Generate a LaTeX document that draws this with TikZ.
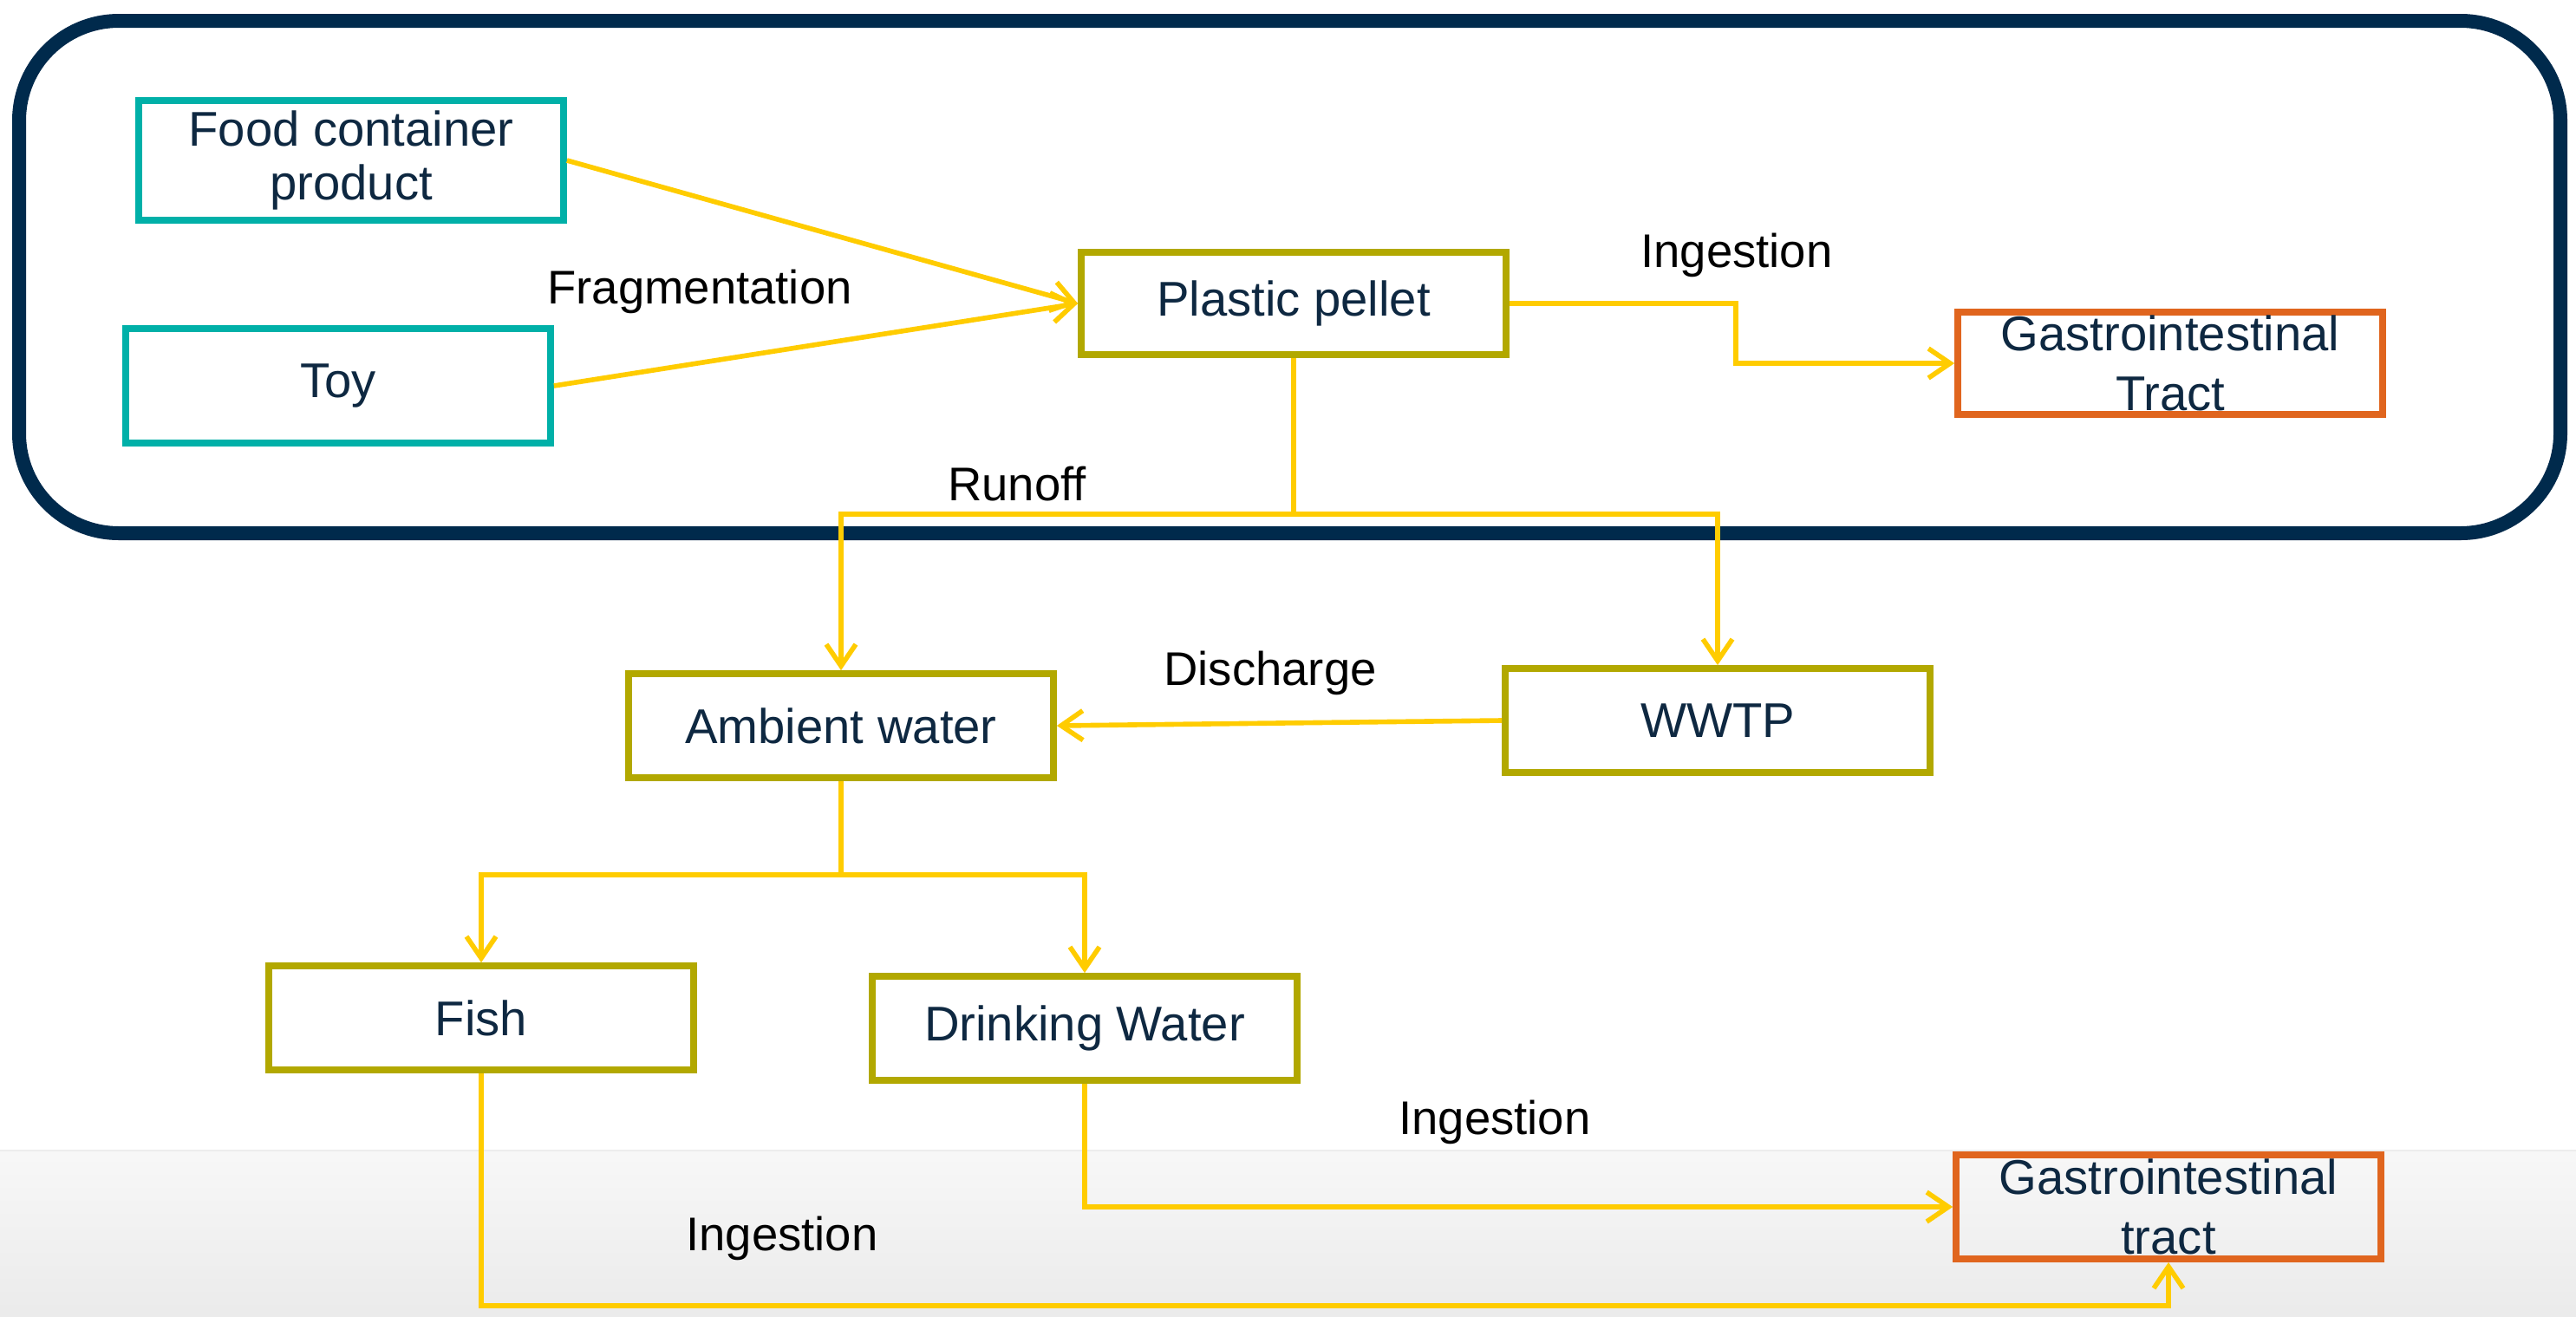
\documentclass[tikz,border=0pt]{standalone}
\usepackage{fontspec}
\setmainfont{Liberation Sans}
\usetikzlibrary{arrows.meta,positioning,shadows}
\definecolor{framenavy}{HTML}{002A4C}
\definecolor{textnavy}{HTML}{0E2841}
\definecolor{boxteal}{HTML}{00B0A8}
\definecolor{boxolive}{HTML}{B2A800}
\definecolor{boxorange}{HTML}{E0651E}
\definecolor{flowyellow}{HTML}{FFCC00}

\begin{document}
\begin{tikzpicture}[>={Straight Barb[length=0.25cm,width=0.34cm]}]
        \tikzstyle{box} = [draw, line width=2.2pt, minimum width=4.9cm, minimum height=1.25cm, text=textnavy, align=center, font=\fontsize{16}{17.5}\selectfont]
        \tikzstyle{srcbox} = [box, draw=boxteal]
        \tikzstyle{midbox} = [box, draw=boxolive]
        \tikzstyle{gibox} = [box, draw=boxorange, inner ysep=-4pt, font=\fontsize{16}{19.5}\selectfont]
        \tikzstyle{flow} = [draw=flowyellow, line width=1.6pt]
        \tikzstyle{step label} = [font=\fontsize{15.5}{18}\selectfont, text=black]

        \useasboundingbox (0,0) rectangle (29.71,-15.18);
        \fill[white] (0,0) rectangle (29.71,-15.18);
        \shade[top color=black!3, bottom color=black!8] (0,-13.27) rectangle (29.71,-15.18);
        \draw[black!7, line width=0.6pt] (0,-13.27) -- (29.71,-13.27);
        % upper frame
        \draw[framenavy, fill=white, line width=0.16cm, rounded corners=1.15cm,
              drop shadow={shadow xshift=0.02cm, shadow yshift=-0.08cm, opacity=0.25}]
              (0.22,-0.24) rectangle (29.53,-6.15);

        \node[srcbox] (food) at (4.05,-1.85) {Food container\\product};
        \node[srcbox, minimum height=1.32cm] (toy) at (3.90,-4.45) {Toy};
        \node[midbox, minimum height=1.18cm] (pellet) at (14.92,-3.50) {Plastic pellet};
        \node[gibox, minimum height=1.18cm] (gi1) at (25.03,-4.19) {Gastrointestinal\\Tract};
        \node[midbox, minimum height=1.2cm] (amb) at (9.70,-8.37) {Ambient water};
        \node[midbox, minimum height=1.2cm] (wwtp) at (19.81,-8.31) {WWTP};
        \node[midbox, minimum height=1.2cm] (fish) at (5.55,-11.74) {Fish};
        \node[midbox, minimum height=1.2cm] (drink) at (12.51,-11.86) {Drinking Water};
        \node[gibox, minimum height=1.2cm] (gi2) at (25.01,-13.92) {Gastrointestinal\\tract};

        \node[step label] (frag) at (8.07,-3.36) {Fragmentation};
        \node[step label] (ing1) at (20.03,-2.94) {Ingestion};
        \node[step label] (run) at (11.73,-5.58) {Runoff};
        \node[step label] (dis) at (14.65,-7.76) {Discharge};
        \node[step label] (ing2) at (17.24,-12.94) {Ingestion};
        \node[step label] (ing3) at (9.02,-14.28) {Ingestion};

        \coordinate (runlevel) at (0,-5.93);
        \coordinate (ambLevel) at (0,-10.09);
        \coordinate (fishlevel) at (0,-15.06);

        \draw [flow, ->] (food.east) -- (pellet.west);
        \draw [flow, ->] (toy.east) -- (pellet.west);
        \draw [flow, ->] (pellet.east) -- ++(2.61,0) |- (gi1.west);
        \draw [flow] (pellet.south) -- (pellet.south |- runlevel) coordinate (runsplit);
        \draw [flow, ->] (runsplit) -| (amb.north);
        \draw [flow, ->] (runsplit) -| (wwtp.north);
        \draw [flow, ->] (wwtp.west) -- (amb.east);
        \draw [flow] (amb.south) -- (amb.south |- ambLevel) coordinate (ambsplit);
        \draw [flow, ->] (ambsplit) -| (fish.north);
        \draw [flow, ->] (ambsplit) -| (drink.north);
        \draw [flow, ->] (drink.south) |- (gi2.west);
        \draw [flow, ->] (fish.south) -- (fish.south |- fishlevel) -| (gi2.south);
\end{tikzpicture}
\end{document}
